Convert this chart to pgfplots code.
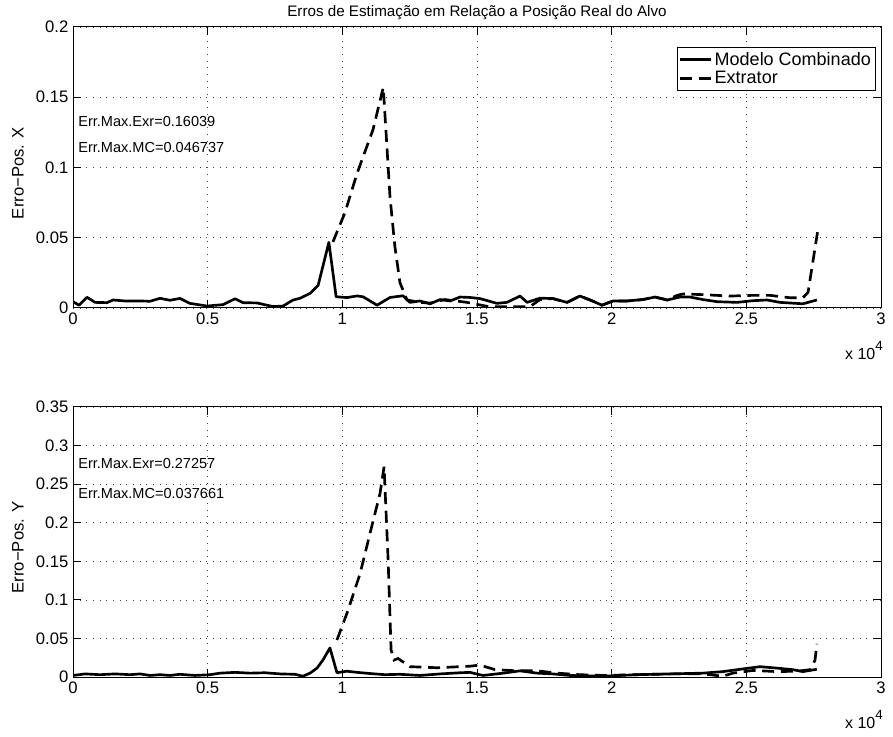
\documentclass[border=0pt]{standalone}
\usepackage{pgfplots}
\pgfplotsset{compat=1.18}
\usepackage{fontspec}
\setmainfont{Liberation Sans}

\pgfplotsset{
  mystyle/.style={
    scale only axis, width=606pt,
    clip mode=individual,
    xmin=0, xmax=30000, ymin=0,
    xtick={0,5000,...,30000}, xticklabels={0,0.5,1,1.5,2,2.5,3},
    scaled x ticks=false, scaled y ticks=false,
    tick align=inside, major tick length=6pt,
    xtick pos=both, ytick pos=both,
    grid=major,
    major grid style={black!75, line width=0.5pt, dash pattern=on 0.6pt off 4.4pt},
    axis line style={line width=0.75pt},
    tick style={line width=0.75pt, black},
    tick label style={font=\fontsize{12.5}{14}\selectfont},
    every axis y label/.style={at={(rel axis cs:-0.068,0.48)}, rotate=90, anchor=center, font=\fontsize{12.5}{14}\selectfont},
    legend cell align=left,
  },
}
\tikzset{
  mc/.style={black, line width=2pt, line join=round},
  ex/.style={black, line width=2pt, dash pattern=on 9pt off 5pt},
  ann/.style={anchor=west, inner sep=0pt, font=\fontsize{10.9}{12}\selectfont},
  xten/.style={anchor=north east, inner sep=0pt, font=\fontsize{12}{14}\selectfont},
}
\newcommand{\xten}{x 10\raisebox{0.55em}{\fontsize{10}{10}\selectfont 4}}

\begin{document}
\begin{tikzpicture}
\useasboundingbox (0,0) rectangle (669.75pt,552pt);

% ---------------- top axis ----------------
\begin{axis}[mystyle,
  at={(54.75pt,321pt)}, anchor=south west,
  height=210.75pt, ymax=0.2,
  ytick={0,0.05,0.1,0.15,0.2}, yticklabels={0,0.05,0.1,0.15,0.2},
  ylabel={Erro−Pos. X},
  legend style={at={(rel axis cs:0.9938,0.929)}, anchor=north east,
     draw=black, line width=0.75pt, font=\fontsize{13.5}{15}\selectfont,
     inner sep=1.5pt, row sep=-1pt},
  legend image code/.code={\draw[#1] (0cm,0cm) -- (0.8cm,0cm);},
]
\addplot[mc] coordinates {
(0,0.0045)(220,0.002)(520,0.0076)(820,0.004)(1260,0.0038)(1490,0.0057)(1930,0.005)
(2490,0.005)(2860,0.0048)(3230,0.0069)(3600,0.0055)(3970,0.0068)(4340,0.0033)
(4980,0.0014)(5570,0.0024)(6020,0.0066)(6310,0.0038)(6830,0.0036)(7430,0.001)
(7800,0.0014)(8170,0.0057)(8430,0.0069)(8800,0.0104)(9100,0.016)(9500,0.0467)
(9770,0.008)(10170,0.0074)(10550,0.0086)(10770,0.008)(11290,0.002)(11770,0.0075)
(12250,0.0087)(12510,0.004)(12880,0.005)(13260,0.003)(13630,0.006)(14000,0.005)
(14370,0.0078)(14740,0.0075)(15110,0.0067)(15740,0.0033)(16110,0.004)(16600,0.0085)
(16860,0.004)(17340,0.007)(17820,0.0067)(18340,0.004)(18820,0.0085)(19200,0.0057)
(19640,0.002)(20050,0.005)(20570,0.005)(21160,0.006)(21610,0.0078)(22060,0.0057)
(22540,0.0078)(22910,0.0078)(23390,0.006)(23910,0.0045)(24650,0.004)(25250,0.0052)
(25770,0.0057)(26250,0.004)(27100,0.003)(27620,0.0057)
};
\addlegendentry{Modelo Combinado}
\addplot[ex] coordinates {
(9650,0.047)(10100,0.068)(10550,0.096)(11140,0.127)(11520,0.157)(11770,0.079)
(11950,0.044)(12140,0.018)(12400,0.0057)(12880,0.004)(13260,0.0035)(13810,0.006)
(14630,0.004)(15480,0.0008)(16230,0.001)(16970,0.001)(17340,0.006)(17820,0.0067)
(18340,0.004)(18820,0.0085)(19200,0.0057)(19640,0.002)(20050,0.005)(20570,0.005)
(21160,0.006)(21610,0.0078)(22060,0.0057)(22430,0.009)(22650,0.01)(23390,0.0095)
(24390,0.0085)(25250,0.009)(25880,0.009)(26620,0.0073)(27100,0.0073)(27290,0.011)
(27660,0.056)
};
\addlegendentry{Extrator}
\node[ann] at (axis cs:190,0.133) {Err.Max.Exr=0.16039};
\node[ann] at (axis cs:190,0.114) {Err.Max.MC=0.046737};
\node[xten, xshift=1.5pt, yshift=-24.75pt] at (rel axis cs:1,0) {\xten};
\end{axis}

% ---------------- bottom axis ----------------
\begin{axis}[mystyle,
  at={(54.75pt,44.25pt)}, anchor=south west,
  height=202.5pt, ymax=0.35,
  ytick={0,0.05,0.1,0.15,0.2,0.25,0.3,0.35},
  yticklabels={0,0.05,0.1,0.15,0.2,0.25,0.3,0.35},
  ylabel={Erro−Pos. Y},
]
\addplot[mc] coordinates {
(0,0.002)(450,0.004)(1000,0.003)(1560,0.004)(2120,0.003)(2490,0.004)(2860,0.002)
(3230,0.003)(3600,0.002)(3970,0.0035)(4530,0.002)(5090,0.003)(5460,0.005)(6020,0.006)
(6570,0.005)(7130,0.0055)(7690,0.004)(8240,0.0035)(8540,0.001)(8800,0.005)
(9060,0.0115)(9280,0.022)(9540,0.0377)(9800,0.0056)(10170,0.0075)(10550,0.006)
(11030,0.0045)(11580,0.003)(12140,0.0035)(12880,0.002)(13630,0.004)(14370,0.0055)
(14740,0.006)(15220,0.002)(15480,0.003)(15970,0.005)(16600,0.008)(17230,0.005)
(17820,0.004)(18450,0.002)(19680,0.001)(20940,0.003)(22170,0.004)(23390,0.005)
(24130,0.007)(24770,0.01)(25510,0.0134)(26140,0.0115)(26730,0.0095)(27100,0.007)
(27620,0.01)
};
\addplot[ex] coordinates {
(9800,0.048)(10170,0.0825)(10660,0.134)(11030,0.1866)(11400,0.238)(11550,0.2726)
(11700,0.152)(11810,0.035)(11920,0.022)(12070,0.024)(12510,0.0134)(13520,0.012)
(14740,0.014)(15110,0.0155)(15670,0.0095)(16490,0.008)(17230,0.008)(17970,0.005)
(18820,0.003)(19680,0.002)(20940,0.003)(22170,0.004)(23390,0.004)(24130,0.001)
(24500,0.005)(25250,0.0085)(26140,0.007)(26880,0.0075)(27370,0.0095)(27550,0.022)
(27620,0.043)
};
\node[ann] at (axis cs:190,0.277) {Err.Max.Exr=0.27257};
\node[ann] at (axis cs:190,0.2385) {Err.Max.MC=0.037661};
\node[xten, xshift=1.5pt, yshift=-24.75pt] at (rel axis cs:1,0) {\xten};
\end{axis}

\node[font=\fontsize{11.4}{13}\selectfont] at (357.75pt,542.25pt) {Erros de Estimação em Relação a Posição Real do Alvo};
\end{tikzpicture}
\end{document}
